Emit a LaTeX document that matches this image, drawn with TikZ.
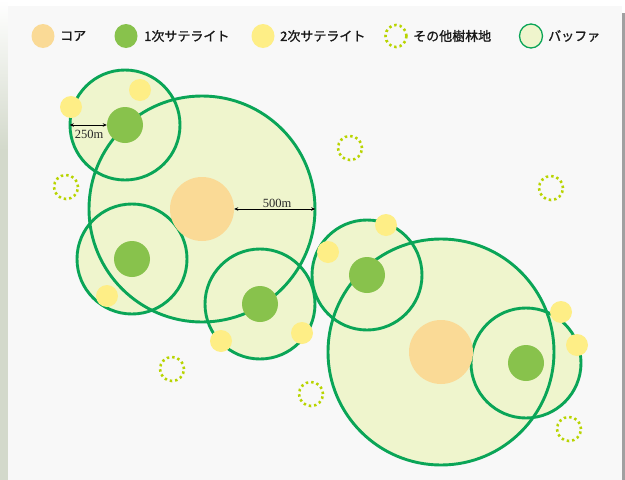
\documentclass[tikz,border=0pt]{standalone}
\usepackage{fontspec}
\setmainfont{Liberation Serif}
\newfontfamily\jp[FakeBold=1.2]{Noto Sans CJK JP}
\usetikzlibrary{arrows.meta,shapes.geometric}
\definecolor{corec}{HTML}{FADA96}
\definecolor{greenc}{HTML}{88C24C}
\definecolor{yellowc}{HTML}{FEEE86}
\definecolor{buffill}{HTML}{EFF5CD}
\definecolor{buflinec}{HTML}{0AA557}
\definecolor{woodc}{HTML}{B8D400}
\definecolor{bgc}{HTML}{F8F8F8}
\definecolor{stripc}{HTML}{D3D9CB}
\definecolor{barc}{HTML}{A0A0A0}
\tikzset{
  buf/.style={circle, fill=buffill, inner sep=0pt, minimum size=#1},
  bufln/.style={circle, draw=buflinec, line width=2.9pt, inner sep=0pt, minimum size=#1},
  coredot/.style={circle, fill=corec, inner sep=0pt, minimum size=64pt},
  gdot/.style={circle, fill=greenc, inner sep=0pt, minimum size=36pt},
  ydot/.style={circle, fill=yellowc, inner sep=0pt, minimum size=22pt},
  wood/.style={circle, draw=woodc, line width=2.6pt, dash pattern=on 2.4pt off 2.99pt, inner sep=0pt, minimum size=24pt},
  legmark/.style={ellipse, inner sep=0pt, minimum width=23pt, minimum height=24pt},
  legtext/.style={anchor=west, font=\jp\fontsize{13}{13}\selectfont, inner sep=0pt, text=black!90},
  dimline/.style={{Stealth[length=4pt,width=3.5pt]}-{Stealth[length=4pt,width=3.5pt]}, line width=0.7pt, black},
  dimlabel/.style={font=\fontsize{12.5}{12.5}\selectfont, inner sep=0pt, text=black!85}
}
\begin{document}
\begin{tikzpicture}[x=1pt,y=-1pt]
\useasboundingbox (0,0) rectangle (625,480);
% background
\fill[white] (0,0) rectangle (625,480);
\fill[bgc] (7.5,6) rectangle (622,480);
\shade[top color=white, bottom color=stripc] (0,0) rectangle (7.5,150);
\fill[stripc] (0,150) rectangle (7.5,480);
\fill[barc] (622,13) rectangle (625,480);

% legend
\node[legmark, fill=corec] (lcore) at (43,36) {};
\node[legtext] (tcore) at (60,36) {コア};
\node[legmark, fill=greenc] (lgreen) at (126,36) {};
\node[legtext] (tgreen) at (144,36) {1次サテライト};
\node[legmark, fill=yellowc] (lyellow) at (263,36) {};
\node[legtext] (tyellow) at (280,36) {2次サテライト};
\node[legmark, draw=woodc, line width=2.6pt, dash pattern=on 2.4pt off 2.99pt, minimum width=21pt, minimum height=22pt] (lwood) at (396,36) {};
\node[legtext] (twood) at (413,36) {その他樹林地};
\node[legmark, fill=buffill, draw=buflinec, line width=1.3pt] (lbuf) at (531,36) {};
\node[legtext] (tbuf) at (548,36) {バッファ};

% buffer fills
\node[buf=110pt] (bA) at (125,125) {};
\node[buf=226pt] (bB) at (202,209) {};
\node[buf=110pt] (bC) at (132,259) {};
\node[buf=110pt] (bD) at (260,304) {};
\node[buf=110pt] (bE) at (367,275) {};
\node[buf=226pt] (bF) at (441,352) {};
\node[buf=110pt] (bG) at (526,363) {};

% buffer outlines
\node[bufln=110pt] (lA) at (bA) {};
\node[bufln=226pt] (lB) at (bB) {};
\node[bufln=110pt] (lC) at (bC) {};
\node[bufln=110pt] (lD) at (bD) {};
\node[bufln=110pt] (lE) at (bE) {};
\node[bufln=226pt] (lF) at (bF) {};
\node[bufln=110pt] (lG) at (bG) {};

% cores
\node[coredot] (cB) at (bB) {};
\node[coredot] (cF) at (bF) {};

% primary satellites
\node[gdot] (gA) at (bA) {};
\node[gdot] (gC) at (bC) {};
\node[gdot] (gD) at (bD) {};
\node[gdot] (gE) at (bE) {};
\node[gdot] (gG) at (bG) {};

% secondary satellites
\node[ydot] (y1) at (71,107) {};
\node[ydot] (y2) at (140,90) {};
\node[ydot] (y3) at (107,296) {};
\node[ydot] (y4) at (221,341) {};
\node[ydot] (y5) at (302,333) {};
\node[ydot] (y6) at (328,252) {};
\node[ydot] (y7) at (386,225) {};
\node[ydot] (y8) at (561,312) {};
\node[ydot] (y9) at (577,345) {};

% other woodland
\node[wood] (w1) at (350,148) {};
\node[wood] (w2) at (66,187) {};
\node[wood] (w3) at (551,188) {};
\node[wood] (w4) at (172,369) {};
\node[wood] (w5) at (311,394) {};
\node[wood] (w6) at (569,429) {};

% dimensions
\draw[dimline] (bA.west) -- (gA.west);
\node[dimlabel] (d250) at (89,134) {250m};
\draw[dimline] (cB.east) -- (bB.east);
\node[dimlabel] (d500) at (277,203) {500m};
\end{tikzpicture}
\end{document}
